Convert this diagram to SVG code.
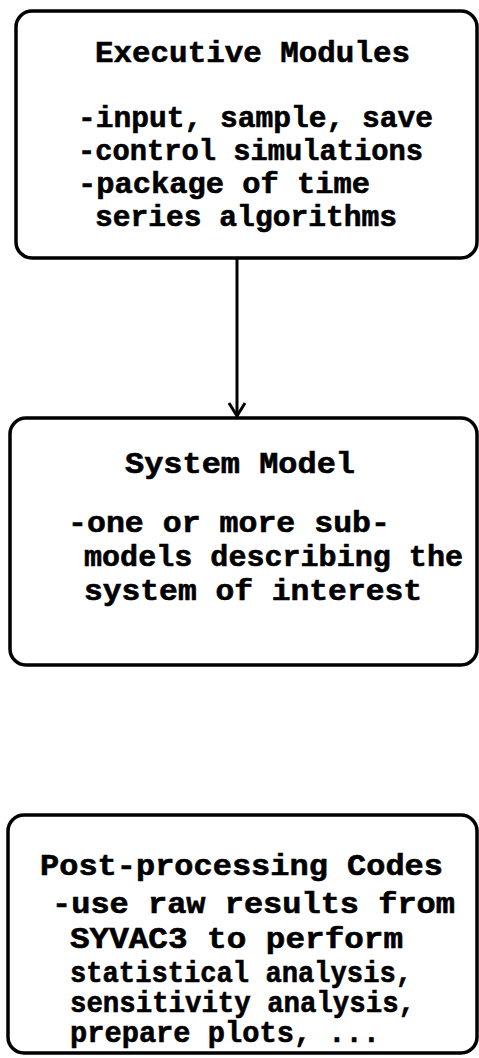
<svg xmlns="http://www.w3.org/2000/svg" width="479" height="1058" viewBox="0 0 479 1058">
<style>
.box{fill:#fff;stroke:#000;stroke-width:3.5}
.t{font-family:"Liberation Mono","DejaVu Sans Mono",monospace;font-weight:bold;font-size:29px;fill:#000;stroke:#000;stroke-width:0.6}
.c{fill:none;stroke:#000;stroke-width:3}
</style>
<rect width="479" height="1058" fill="#fff"/>
<g id="executive">
<rect class="box" x="16" y="11" width="461" height="247" rx="16"/>
<text class="t" x="95" y="62" textLength="315" lengthAdjust="spacingAndGlyphs">Executive Modules</text>
<text class="t" x="78" y="127" textLength="355" lengthAdjust="spacingAndGlyphs">-input, sample, save</text>
<text class="t" x="78" y="160" textLength="345" lengthAdjust="spacingAndGlyphs">-control simulations</text>
<text class="t" x="78" y="193" textLength="292" lengthAdjust="spacingAndGlyphs">-package of time</text>
<text class="t" x="95" y="226" textLength="302" lengthAdjust="spacingAndGlyphs">series algorithms</text>
</g>
<g id="system">
<rect class="box" x="10" y="418" width="467" height="247" rx="16"/>
<text class="t" x="125" y="473" textLength="230" lengthAdjust="spacingAndGlyphs">System Model</text>
<text class="t" x="68" y="532" textLength="322" lengthAdjust="spacingAndGlyphs">-one or more sub-</text>
<text class="t" x="84" y="566" textLength="379" lengthAdjust="spacingAndGlyphs">models describing the</text>
<text class="t" x="84" y="600" textLength="338" lengthAdjust="spacingAndGlyphs">system of interest</text>
</g>
<g id="postprocessing">
<rect class="box" x="8" y="815" width="469" height="238" rx="16"/>
<text class="t" x="40" y="875" textLength="403" lengthAdjust="spacingAndGlyphs">Post-processing Codes</text>
<text class="t" x="52" y="913" textLength="403" lengthAdjust="spacingAndGlyphs">-use raw results from</text>
<text class="t" x="70" y="948" textLength="333" lengthAdjust="spacingAndGlyphs">SYVAC3 to perform</text>
<text class="t" x="70" y="982" textLength="342" lengthAdjust="spacingAndGlyphs">statistical analysis,</text>
<text class="t" x="70" y="1012" textLength="345" lengthAdjust="spacingAndGlyphs">sensitivity analysis,</text>
<text class="t" x="70" y="1042" textLength="310" lengthAdjust="spacingAndGlyphs">prepare plots, ...</text>
</g>
<g id="connectors">
<line class="c" x1="237" y1="258" x2="237" y2="416"/>
<polyline class="c" points="229,403 237,416 245,403"/>
</g>
</svg>
